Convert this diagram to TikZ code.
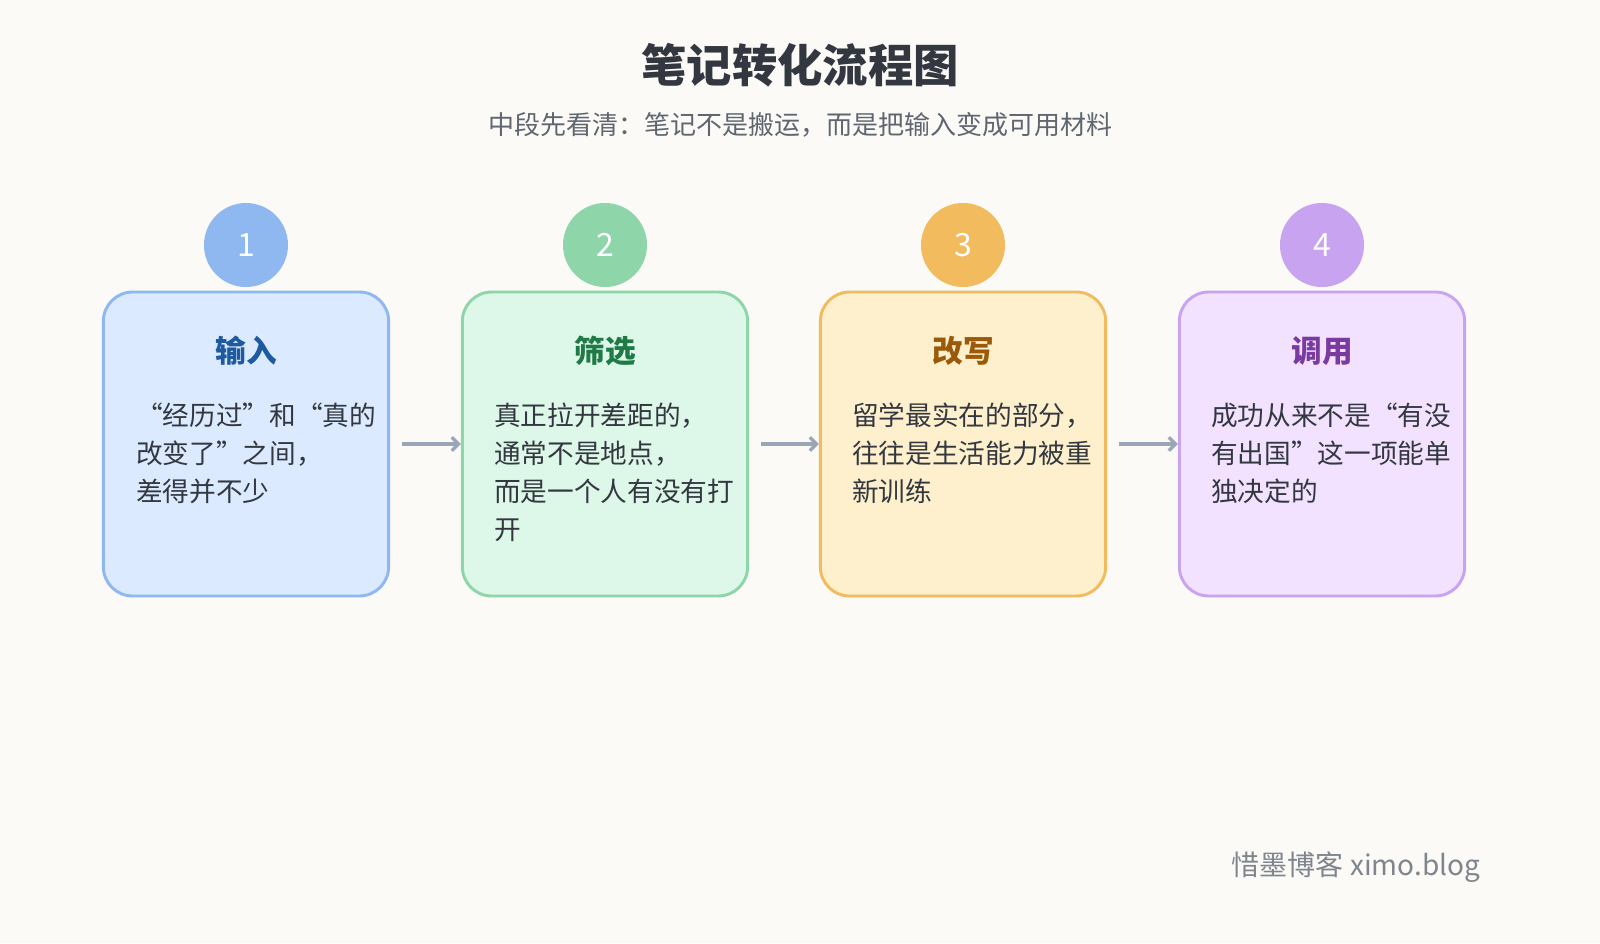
\documentclass[tikz,border=0pt]{standalone}
\usepackage{fontspec}
\setmainfont{Noto Sans CJK SC}
\usetikzlibrary{arrows.meta}
\definecolor{bg}{HTML}{FBFAF7}
\definecolor{fA}{HTML}{DBEAFE}\definecolor{dA}{HTML}{8FB8F0}\definecolor{tA}{HTML}{1E5AA0}
\definecolor{fB}{HTML}{DDF7E9}\definecolor{dB}{HTML}{8ED6AA}\definecolor{tB}{HTML}{1F7A45}
\definecolor{fC}{HTML}{FEF0CC}\definecolor{dC}{HTML}{F2BB5E}\definecolor{tC}{HTML}{9A5A0A}
\definecolor{fD}{HTML}{F2E2FF}\definecolor{dD}{HTML}{C8A3F0}\definecolor{tD}{HTML}{7A3AA0}
\definecolor{txt}{HTML}{333840}\definecolor{sub}{HTML}{5F6670}\definecolor{arr}{HTML}{9AA5B5}
\begin{document}
\begin{tikzpicture}[x=0.75pt,y=-0.75pt,
 card/.style={draw=#1,line width=2.2pt,rounded corners=22pt,minimum width=214pt,minimum height=228pt,inner sep=0pt},
 num/.style={circle,fill=#1,minimum size=63pt,inner sep=0pt,text=white,font=\fontsize{24}{24}\selectfont},
 ctitle/.style={font=\fontsize{23}{23}\selectfont\bfseries,text=#1},
 body/.style={anchor=north west,align=left,text=txt,font=\fontsize{20}{28.5}\selectfont,inner sep=0pt},
 link/.style={draw=arr,line width=2.5pt,-{Straight Barb[length=5pt,width=10pt]}}]
\fill[bg] (0,0) rectangle (1600,943);
\useasboundingbox (0,0) rectangle (1600,943);
\node (title) at (800,65) {\fontsize{34}{34}\selectfont\bfseries\color{txt}笔记转化流程图};
\node (subtitle) at (800,125) {\fontsize{19.5}{20}\selectfont\color{sub}中段先看清：笔记不是搬运，而是把输入变成可用材料};
\foreach \i/\x/\c/\t/\L in {1/246/A/输入/a,2/605/B/筛选/b,3/963/C/改写/c,4/1322/D/调用/d}{
 \node[card=d\c,fill=f\c] (\L box) at (\x,444) {};
 \node[num=d\c] (\L num) at (\x,245) {\i};
 \node[ctitle=t\c] (\L title) at (\x,351) {\t};
}
\node[body] (abody) at (136,403) {“经历过”和“真的\\改变了”之间，\\差得并不少};
\node[body] (bbody) at (494,403) {真正拉开差距的，\\通常不是地点，\\而是一个人有没有打\\开};
\node[body] (cbody) at (852,403) {留学最实在的部分，\\往往是生活能力被重\\新训练};
\node[body] (dbody) at (1211,403) {成功从来不是“有没\\有出国”这一项能单\\独决定的};
\draw[link] ([xshift=9pt]abox.east) -- (bbox.west);
\draw[link] ([xshift=9pt]bbox.east) -- (cbox.west);
\draw[link] ([xshift=9pt]cbox.east) -- (dbox.west);
\node[anchor=east,text=sub!80] (footer) at (1485,867) {\fontsize{21}{21}\selectfont 惜墨博客 ximo.blog};
\end{tikzpicture}
\end{document}
